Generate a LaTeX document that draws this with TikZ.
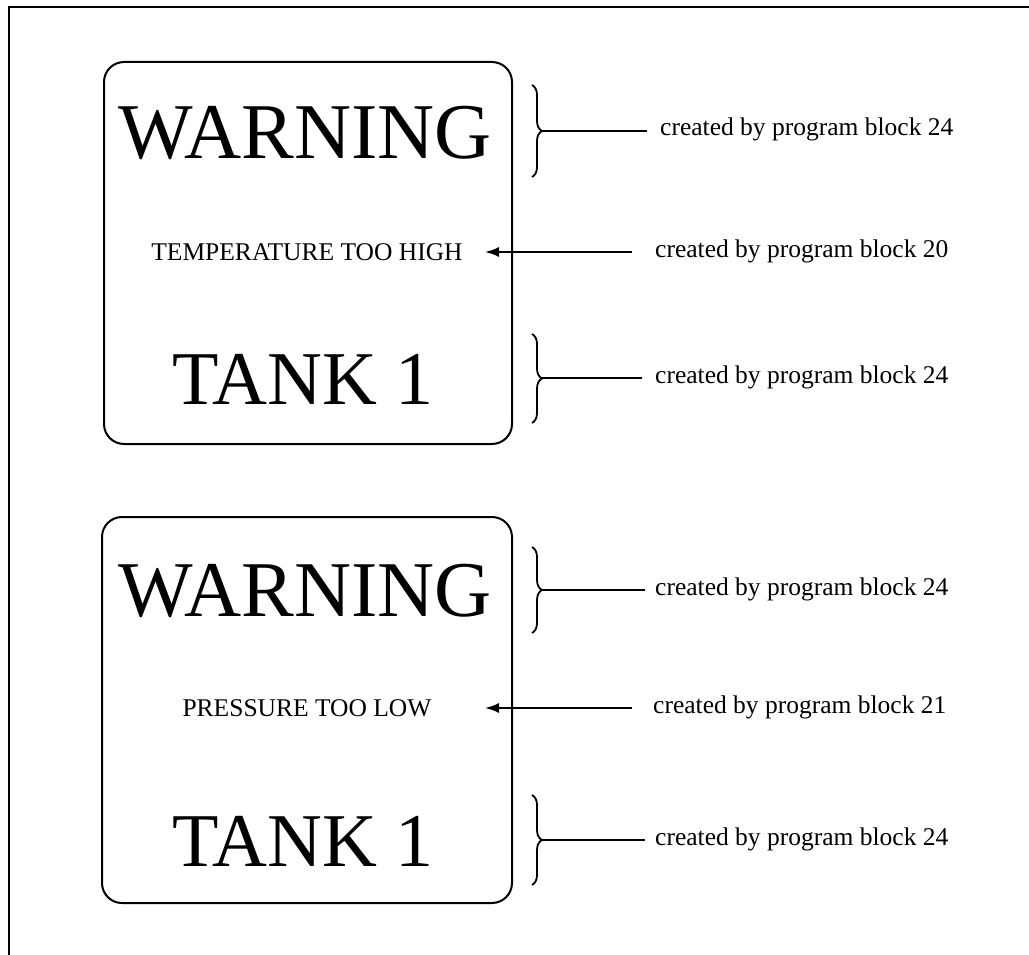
\documentclass[tikz,border=0pt]{standalone}
\usepackage{fontspec}
\setmainfont{Liberation Serif}
\usetikzlibrary{decorations.pathreplacing,arrows.meta}
\begin{document}
\begin{tikzpicture}[x=1pt,y=1pt,
  frameline/.style={line width=2pt},
  panel/.style={draw,line width=2pt,rounded corners=20pt},
  bigtxt/.style={font=\fontsize{79}{80}\selectfont,inner sep=0pt},
  tanktxt/.style={font=\fontsize{76}{80}\selectfont,inner sep=0pt},
  midtxt/.style={font=\fontsize{25.5}{28}\selectfont,inner sep=0pt},
  note/.style={font=\fontsize{25.5}{28}\selectfont,inner sep=0pt,anchor=base west},
  bracedec/.style={decorate,decoration={brace,amplitude=10pt,aspect=0.5},line width=1.8pt},
  lead/.style={line width=1.8pt},
  arrowline/.style={line width=1.8pt,-{Latex[length=14pt,width=10pt]}}]
\useasboundingbox (0,0) rectangle (1029,-955);
% outer frame (top and left only)
\draw[frameline] (9,-955) -- (9,-7) -- (1029,-7);
% panels
\node[panel,minimum width=408pt,minimum height=382pt,inner sep=0pt] (p1) at (308,-253) {};
\node[panel,minimum width=410pt,minimum height=386pt,inner sep=0pt] (p2) at (307,-710) {};
% panel 1 texts
\node[bigtxt] (w1) at (305,-133) {WARNING};
\node[midtxt] (m1) at (307,-252) {TEMPERATURE TOO HIGH};
\node[tanktxt] (k1) at (303,-379) {TANK 1};
% panel 2 texts
\node[bigtxt] (w2) at (305,-591) {WARNING};
\node[midtxt] (m2) at (307,-708) {PRESSURE TOO LOW};
\node[tanktxt] (k2) at (303,-841) {TANK 1};
% braces
\draw[bracedec] (532,-85) -- (532,-177);
\draw[bracedec] (532,-334) -- (532,-423);
\draw[bracedec] (532,-547) -- (532,-633);
\draw[bracedec] (532,-795) -- (532,-885);
% brace tips and line ends
\coordinate (b1) at (542,-131);
\coordinate (b3) at (542,-378);
\coordinate (b4) at (542,-590);
\coordinate (b6) at (542,-840);
\coordinate (e1) at (647,-131);
\coordinate (e3) at (642,-378);
\coordinate (e4) at (645,-590);
\coordinate (e6) at (645,-840);
\coordinate (s2) at (632,-252);
\coordinate (s5) at (632,-708);
\coordinate (h2) at (485,-252);
\coordinate (h5) at (485,-708);
% notes
\node[note] (n1) at (660,-136) {created by program block 24};
\node[note] (n2) at (655,-257) {created by program block 20};
\node[note] (n3) at (655,-383) {created by program block 24};
\node[note] (n4) at (655,-595) {created by program block 24};
\node[note] (n5) at (653,-713) {created by program block 21};
\node[note] (n6) at (655,-845) {created by program block 24};
% leaders
\draw[lead] (b1) -- (e1);
\draw[lead] (b3) -- (e3);
\draw[lead] (b4) -- (e4);
\draw[lead] (b6) -- (e6);
\draw[arrowline] (s2) -- (h2);
\draw[arrowline] (s5) -- (h5);
\end{tikzpicture}
\end{document}
